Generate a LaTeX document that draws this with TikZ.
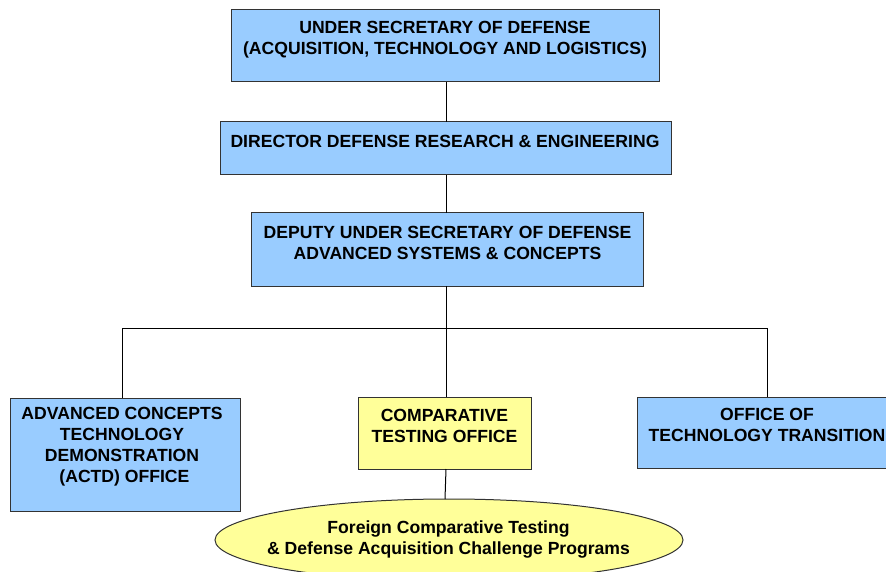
\documentclass[tikz,border=0pt]{standalone}
\usepackage{fontspec}
\setmainfont{Liberation Sans}
\usetikzlibrary{shapes.geometric}
\definecolor{boxblue}{HTML}{99CCFF}
\definecolor{boxyellow}{HTML}{FFFF99}
\definecolor{edgegray}{HTML}{333333}
\begin{document}
\begin{tikzpicture}[x=1pt,y=-1pt,
  box/.style={draw=edgegray,line width=1pt,rectangle,inner sep=0pt,outer sep=0pt},
  bluebox/.style={box,fill=boxblue},
  yellowbox/.style={box,fill=boxyellow},
  lbl/.style={inner sep=0pt,align=center,font=\fontsize{17.6}{21}\selectfont\bfseries},
  conn/.style={draw=black,line width=1pt}]
\useasboundingbox (0,0) rectangle (886,572);
\clip (0,0) rectangle (886,572);
% boxes
\node[bluebox,minimum width=428pt,minimum height=72pt] (usd) at (445,46) {};
\node[bluebox,minimum width=451pt,minimum height=53pt] (ddre) at (445.5,148.5) {};
\node[bluebox,minimum width=392pt,minimum height=73pt] (dep) at (447,249.5) {};
\node[bluebox,minimum width=230pt,minimum height=113pt] (actd) at (125,454.5) {};
\node[yellowbox,minimum width=173pt,minimum height=72pt] (cto) at (444.5,433) {};
\node[bluebox,minimum width=256pt,minimum height=71pt] (ott) at (765,432.5) {};
\node[box,fill=boxyellow,ellipse,minimum width=468pt,minimum height=82pt] (fct) at (449,540) {};
% labels
\node[lbl] (usdT) at (445,39.5) {UNDER SECRETARY OF DEFENSE\\(ACQUISITION, TECHNOLOGY AND LOGISTICS)};
\node[lbl] (ddreT) at (445,141) {DIRECTOR DEFENSE RESEARCH \& ENGINEERING};
\node[lbl] (depT) at (447.5,242.5) {DEPUTY UNDER SECRETARY OF DEFENSE\\ADVANCED SYSTEMS \& CONCEPTS};
\node[lbl] (actdT) at (122,446.5) {ADVANCED CONCEPTS\\TECHNOLOGY\\DEMONSTRATION\\\ (ACTD) OFFICE};
\node[lbl] (ctoT) at (444.5,425.5) {COMPARATIVE\\TESTING OFFICE};
\node[lbl] (ottT) at (767,424.5) {OFFICE OF\\TECHNOLOGY TRANSITION};
\node[lbl] (fctT) at (448.5,539.5) {Foreign Comparative Testing\\\& Defense Acquisition Challenge Programs};
% connectors
\coordinate (busL) at (122,328);
\coordinate (busR) at (767,328);
\draw[conn] (usd.south -| 446,0) -- (ddre.north -| 446,0);
\draw[conn] (ddre.south -| 446,0) -- (dep.north -| 446,0);
\draw[conn] (busL) -- (busR);
\draw[conn] (dep.south -| 446,0) -- (cto.north -| 446,0);
\draw[conn] (busL) -- (busL |- actd.north);
\draw[conn] (busR) -- (busR |- ott.north);
\draw[conn] (cto.south -| 446,0) -- (fct.north -| 445,0);
\end{tikzpicture}
\end{document}
